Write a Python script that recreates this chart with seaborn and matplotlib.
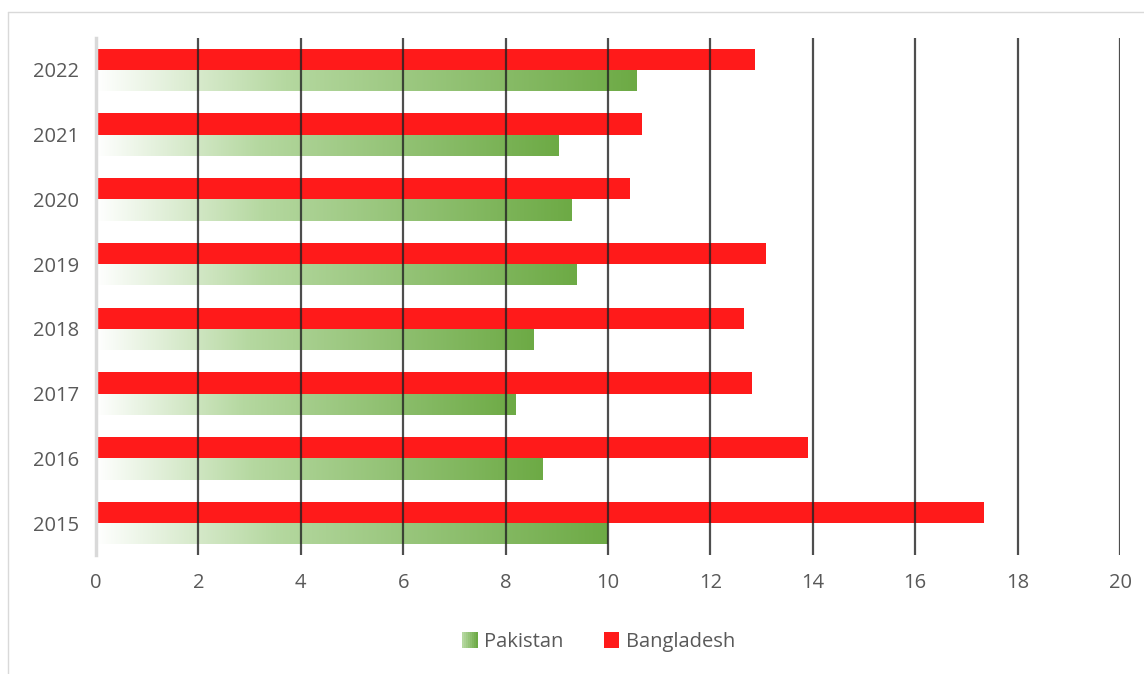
"""
Pakistan vs Bangladesh horizontal bar chart, 2015-2022
"""
import numpy as np
import pandas as pd
import matplotlib
matplotlib.use("Agg")
import matplotlib.pyplot as plt
import seaborn as sns
from matplotlib.colors import LinearSegmentedColormap
from matplotlib.patches import Rectangle
from matplotlib.legend_handler import HandlerBase
from matplotlib.lines import Line2D

years = ["2022", "2021", "2020", "2019", "2018", "2017", "2016", "2015"]
pakistan = [10.55, 9.04, 9.28, 9.39, 8.55, 8.20, 8.72, 10.0]
bangladesh = [12.87, 10.66, 10.43, 13.08, 12.66, 12.81, 13.91, 17.34]
x_ticks = [0, 2, 4, 6, 8, 10, 12, 14, 16, 18, 20]

RED = "#FF1A1A"
GREEN_CMAP = LinearSegmentedColormap.from_list(
    "green_fade", [(0.0, "#FFFFFF"), (0.35, "#B5D8A0"), (1.0, "#6DAA45")])
TEXT = "#595959"
FONT_SIZE = 14.5


class GradientHandler(HandlerBase):
    # legend key drawn as a few vertical strips so it looks like the gradient
    def create_artists(self, legend, orig_handle, xdescent, ydescent, width, height, fontsize, trans):
        strips = []
        n = 8
        size = height * 1.1
        x0 = -xdescent + width - size
        for i in range(n):
            strips.append(Rectangle((x0 + i * size / n, -ydescent - 0.05 * height), size / n + 0.2, size,
                                    facecolor=GREEN_CMAP(0.35 + 0.65 * i / (n - 1)), edgecolor="none",
                                    transform=trans))
        return strips


class SquareHandler(HandlerBase):
    def create_artists(self, legend, orig_handle, xdescent, ydescent, width, height, fontsize, trans):
        size = height * 1.1
        return [Rectangle((-xdescent + width - size, -ydescent - 0.05 * height), size, size,
                          facecolor=RED, edgecolor="none", transform=trans)]


data = pd.DataFrame({
    "year": years * 2,
    "value": bangladesh + pakistan,
    "country": ["Bangladesh"] * len(years) + ["Pakistan"] * len(years),
})

sns.set_style("white")
plt.rcParams["font.family"] = ["Open Sans", "DejaVu Sans"]

fig = plt.figure(figsize=(11.44, 6.74), dpi=100)
ax = fig.add_axes([96 / 1144, 1 - 555.4 / 674, (1120 - 96) / 1144, (555.4 - 37.6) / 674])

sns.barplot(data=data, x="value", y="year", hue="country", order=years,
            hue_order=["Bangladesh", "Pakistan"], palette={"Bangladesh": RED, "Pakistan": "#6DAA45"},
            orient="h", width=0.66, gap=0, dodge=True, legend=False, ax=ax,
            saturation=1, linewidth=0)

# gradient fill for the Pakistan bars
gradient = np.linspace(0, 1, 256).reshape(1, -1)
for patch in ax.containers[1]:
    x, y = patch.get_x(), patch.get_y()
    w, h = patch.get_width(), patch.get_height()
    patch.set_facecolor("none")
    img = ax.imshow(gradient, cmap=GREEN_CMAP, aspect="auto", extent=(x, x + w, y + h, y),
                    zorder=patch.get_zorder(), interpolation="bilinear")
    img.set_clip_path(patch)

ax.set_xlim(0, 20)
ax.set_ylim(7.5, -0.5)
ax.set_xticks(x_ticks)
ax.set_xlabel("")
ax.set_ylabel("")

for xv in x_ticks[1:]:
    ax.axvline(xv, color="#222222", lw=1.6, alpha=0.8, zorder=5)

for side in ["top", "right", "bottom"]:
    ax.spines[side].set_visible(False)
ax.spines["left"].set_color("#D9D9D9")
ax.spines["left"].set_linewidth(2.5)
ax.tick_params(axis="both", length=0, labelsize=FONT_SIZE, labelcolor=TEXT)
ax.tick_params(axis="x", pad=13)
ax.tick_params(axis="y", pad=12)

handles = [Line2D([], []), Line2D([], [])]
fig.legend(handles, ["Pakistan", "Bangladesh"], loc="center", bbox_to_anchor=(0.522, 0.0475),
           ncol=2, frameon=False, fontsize=FONT_SIZE, labelcolor=TEXT, handlelength=0.9,
           handletextpad=0.3, columnspacing=1.9,
           handler_map={handles[0]: GradientHandler(), handles[1]: SquareHandler()})

# light chart-area border
fig.add_artist(Line2D([8 / 1144, 8 / 1144], [0, 1 - 12 / 674], color="#D9D9D9", lw=1))
fig.add_artist(Line2D([8 / 1144, 1], [1 - 12 / 674, 1 - 12 / 674], color="#D9D9D9", lw=1))

fig.savefig("out.png", dpi=100)
